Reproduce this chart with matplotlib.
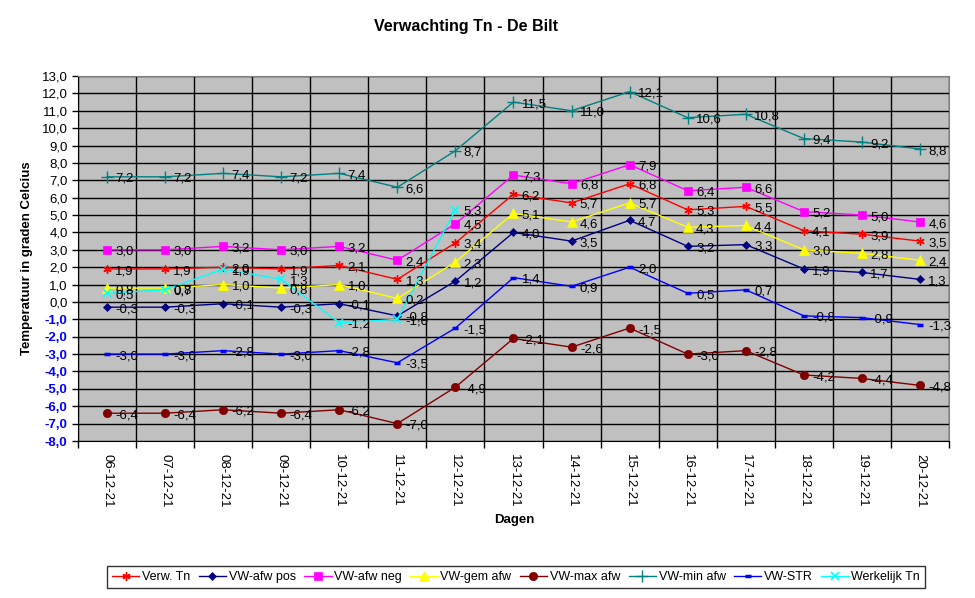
import matplotlib
matplotlib.use('Agg')
import matplotlib.pyplot as plt
import numpy as np
from matplotlib.ticker import FuncFormatter, MultipleLocator, FixedLocator

plt.rcParams['font.family'] = ['Liberation Sans', 'DejaVu Sans']

# Data
dagen = ['06-12-21', '07-12-21', '08-12-21', '09-12-21', '10-12-21', '11-12-21', '12-12-21',
         '13-12-21', '14-12-21', '15-12-21', '16-12-21', '17-12-21', '18-12-21', '19-12-21', '20-12-21']
verw_tn = [1.9, 1.9, 2.0, 1.9, 2.1, 1.3, 3.4, 6.2, 5.7, 6.8, 5.3, 5.5, 4.1, 3.9, 3.5]
afw_pos = [-0.3, -0.3, -0.1, -0.3, -0.1, -0.8, 1.2, 4.0, 3.5, 4.7, 3.2, 3.3, 1.9, 1.7, 1.3]
afw_neg = [3.0, 3.0, 3.2, 3.0, 3.2, 2.4, 4.5, 7.3, 6.8, 7.9, 6.4, 6.6, 5.2, 5.0, 4.6]
gem_afw = [0.8, 0.8, 1.0, 0.8, 1.0, 0.2, 2.3, 5.1, 4.6, 5.7, 4.3, 4.4, 3.0, 2.8, 2.4]
max_afw = [-6.4, -6.4, -6.2, -6.4, -6.2, -7.0, -4.9, -2.1, -2.6, -1.5, -3.0, -2.8, -4.2, -4.4, -4.8]
min_afw = [7.2, 7.2, 7.4, 7.2, 7.4, 6.6, 8.7, 11.5, 11.0, 12.1, 10.6, 10.8, 9.4, 9.2, 8.8]
vw_str = [-3.0, -3.0, -2.8, -3.0, -2.8, -3.5, -1.5, 1.4, 0.9, 2.0, 0.5, 0.7, -0.8, -0.9, -1.3]
werkelijk = [0.5, 0.7, 1.9, 1.3, -1.2, -1.0, 5.3]

# name, values, colour, marker, size, edge width
series = [
    ('Verw. Tn', verw_tn, '#FF0000', (6, 2, 0), 6, 1.0),
    ('VW-afw pos', afw_pos, '#000080', 'D', 4, 0.5),
    ('VW-afw neg', afw_neg, '#FF00FF', 's', 6, 0.5),
    ('VW-gem afw', gem_afw, '#FFFF00', '^', 7, 0.5),
    ('VW-max afw', max_afw, '#800000', 'o', 6, 0.5),
    ('VW-min afw', min_afw, '#008080', '+', 8, 1.0),
    ('VW-STR', vw_str, '#0000FF', '_', 4, 2.5),
    ('Werkelijk Tn', werkelijk, '#00FFFF', 'x', 6, 1.2),
]

fig = plt.figure(figsize=(9.75, 5.98), dpi=100)
ax = fig.add_axes([0.08, 0.2625, 0.8933, 0.6104])
ax.set_facecolor('#C0C0C0')

x = np.arange(len(dagen))
for name, vals, col, mk, ms, mew in series:
    xs = x[:len(vals)]
    ax.plot(xs, vals, color=col, lw=1.0, marker=mk, markersize=ms,
            markeredgewidth=mew, markerfacecolor=col,
            markeredgecolor=col, label=name, zorder=3)
    # data labels to the right of each point
    for xi, v in zip(xs, vals):
        ax.annotate(('%.1f' % v).replace('.', ','), (xi, v), xytext=(6, -1.5),
                    textcoords='offset points', ha='left', va='center',
                    fontsize=9.5, color='black', zorder=4)

ax.set_xlim(-0.5, len(dagen) - 0.5)
ax.set_ylim(-8, 13)
ax.yaxis.set_major_locator(MultipleLocator(1))
ax.yaxis.set_major_formatter(FuncFormatter(lambda v, p: ('%.1f' % v).replace('.', ',')))

ax.set_xticks(x)
ax.set_xticklabels(dagen, rotation=270, fontsize=9.5)
ax.xaxis.set_minor_locator(FixedLocator(np.arange(-0.5, len(dagen), 1.0)))
ax.tick_params(axis='x', which='major', length=0, pad=9)
ax.tick_params(axis='x', which='minor', length=5, width=1, direction='out')
ax.tick_params(axis='y', length=4, width=1, direction='out', labelsize=9.5)

ax.grid(True, axis='y', which='major', color='black', lw=1)
ax.grid(True, axis='x', which='minor', color='black', lw=1)
ax.set_axisbelow(True)

# negative tick labels in blue
fig.canvas.draw()
for lab in ax.get_yticklabels():
    try:
        val = float(lab.get_text().replace(',', '.').replace('\u2212', '-'))
    except ValueError:
        continue
    if val < 0:
        lab.set_color('#0000FF')
        lab.set_fontweight('bold')

for s in ['top', 'right']:
    ax.spines[s].set_color('#808080')
for s in ['left', 'bottom']:
    ax.spines[s].set_color('black')

fig.text(0.478, 0.955, 'Verwachting Tn - De Bilt', ha='center', va='center',
         fontsize=11.5, fontweight='bold')
ax.set_ylabel('Temperatuur in graden Celcius', fontsize=9.5, fontweight='bold', labelpad=6)
fig.text(0.528, 0.13, 'Dagen', ha='center', va='center', fontsize=9.5, fontweight='bold')

leg = fig.legend(loc='lower left', bbox_to_anchor=(0.1097, 0.0167, 0.839, 0.0702),
                 mode='expand', ncol=8, fontsize=9, frameon=True, fancybox=False,
                 handlelength=2.2, handletextpad=0.2, columnspacing=0.8, borderaxespad=0)
leg.get_frame().set_edgecolor('black')
leg.get_frame().set_linewidth(1)

fig.savefig('out.png', dpi=100)
